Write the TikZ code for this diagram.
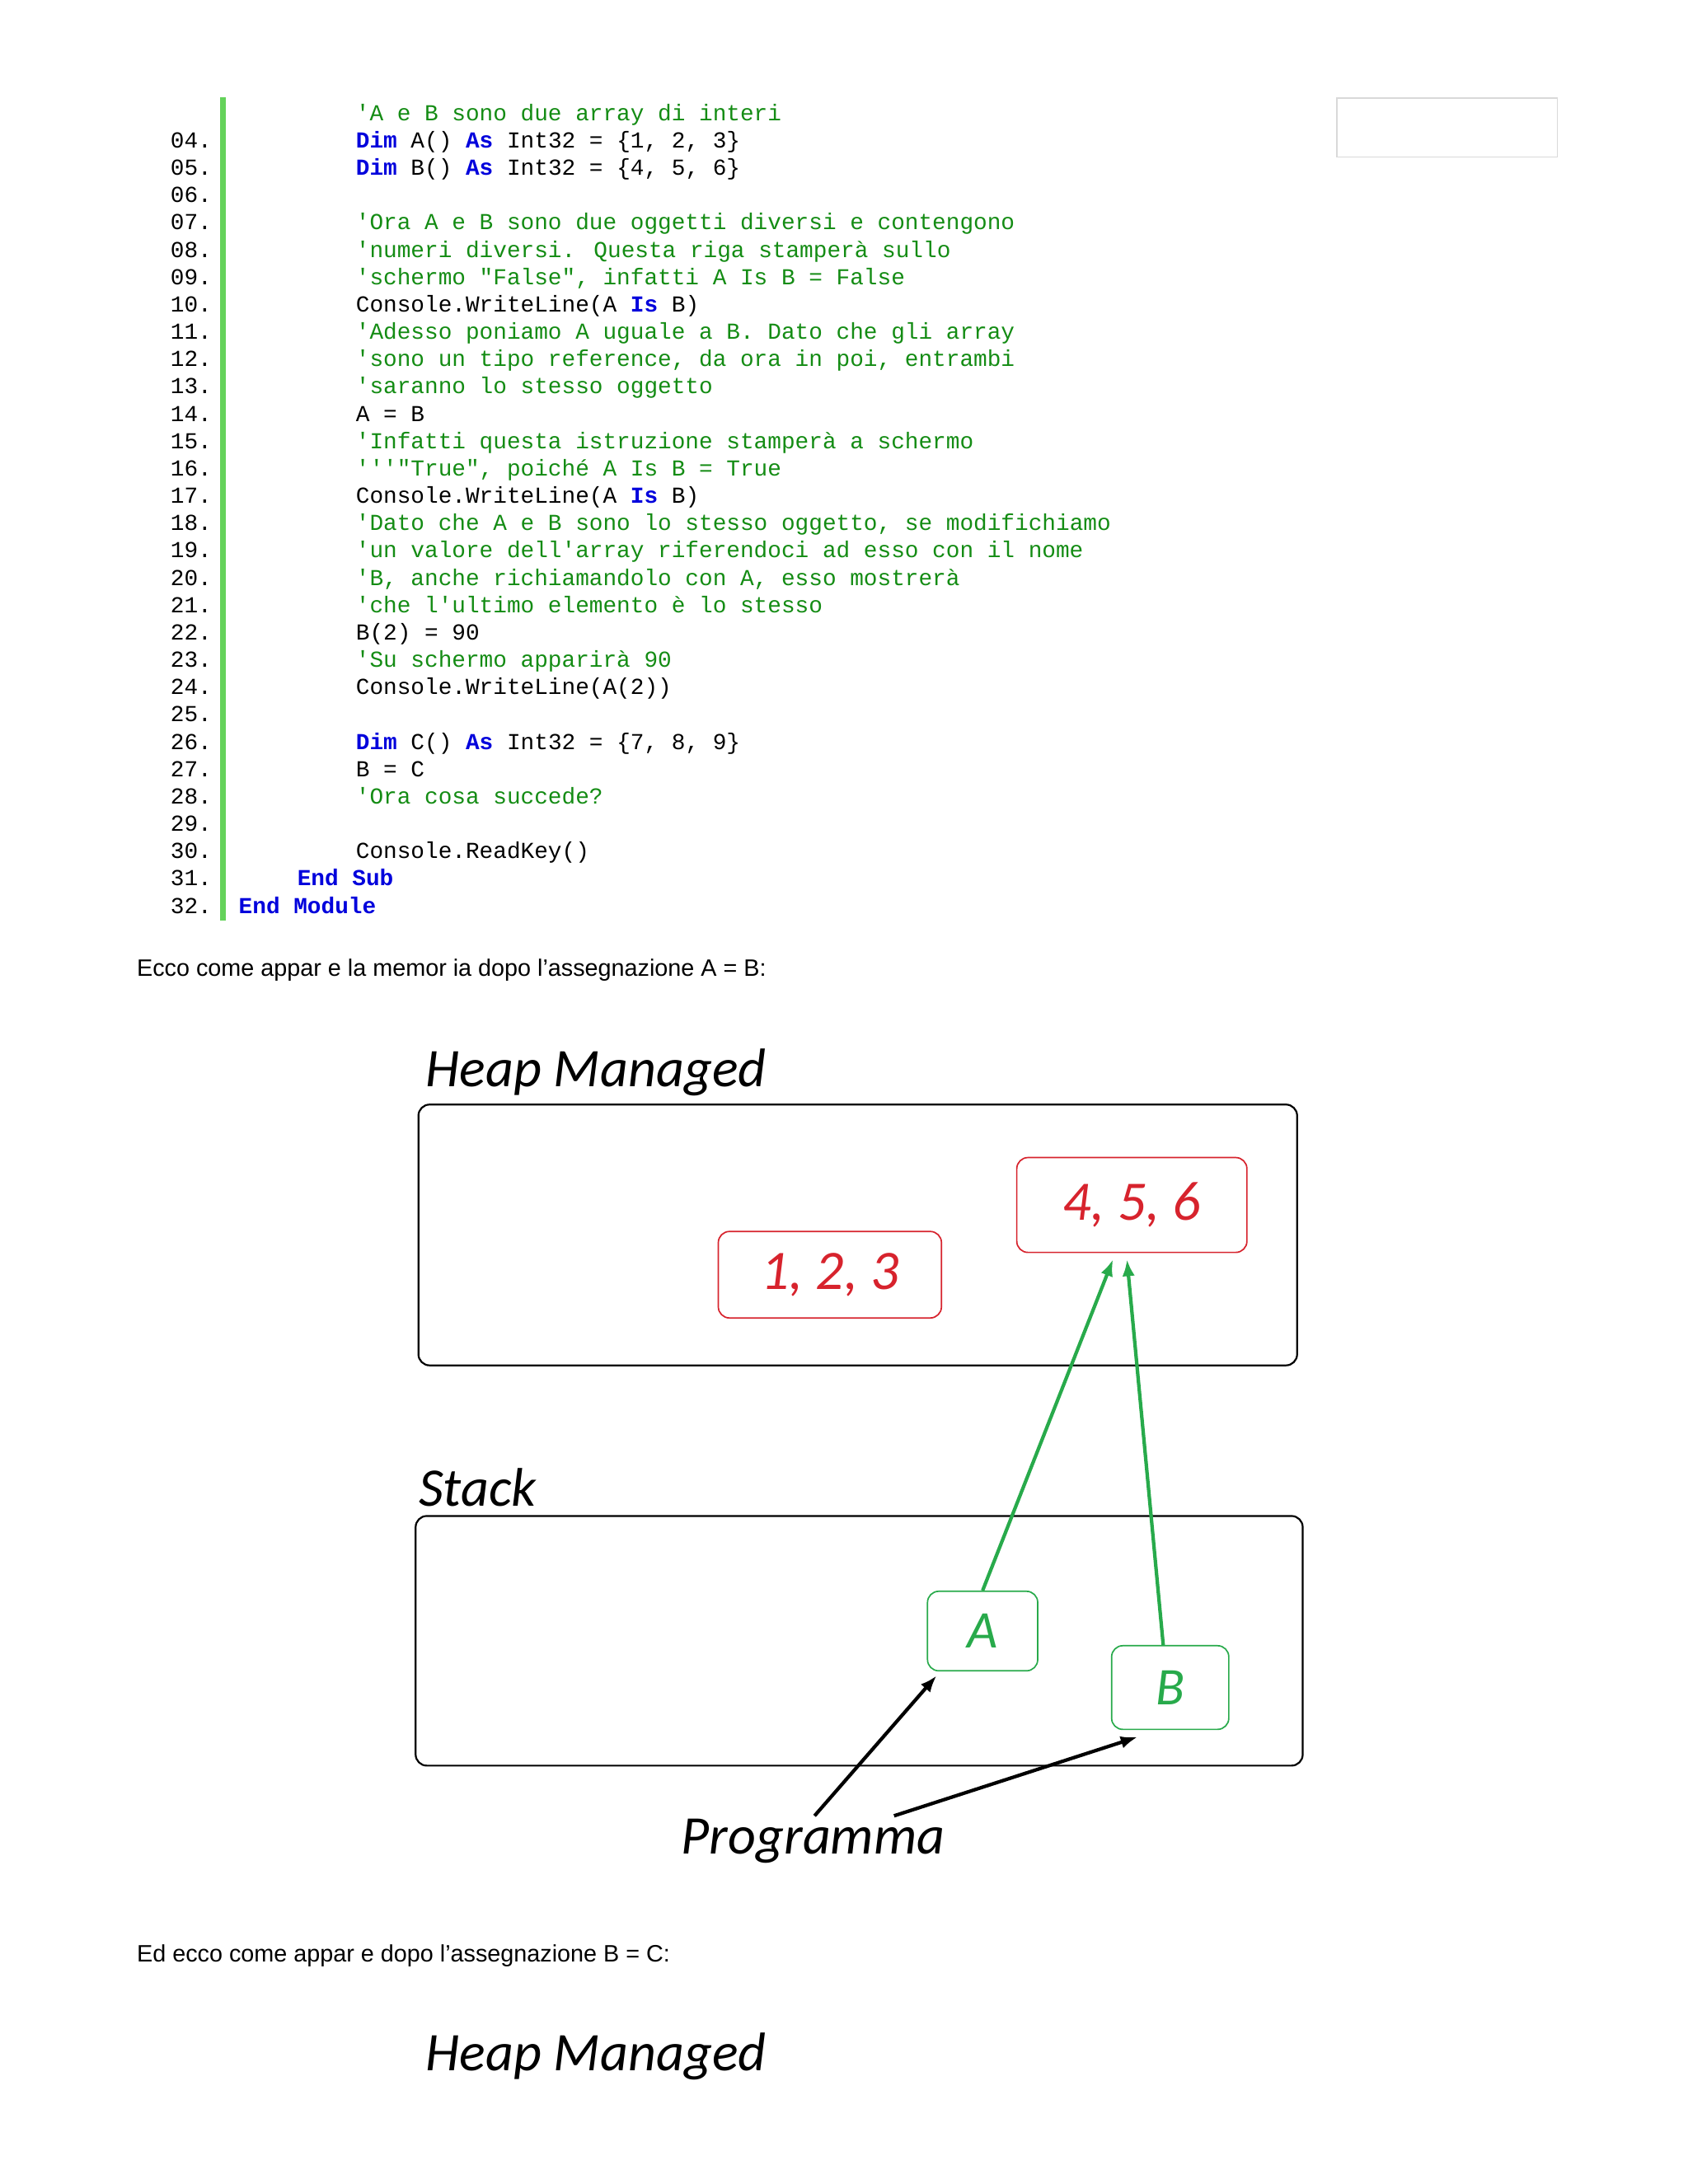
\documentclass[tikz,border=0pt]{standalone}
\usetikzlibrary{arrows.meta}
\usepackage{fontspec}
\setmainfont{Liberation Sans}
\newfontfamily\codefont{Liberation Mono}
\newfontfamily\diafont{Carlito}
\definecolor{cgreen}{RGB}{20,140,20}
\definecolor{kblue}{RGB}{0,0,220}
\definecolor{barg}{RGB}{100,210,90}
\definecolor{dred}{RGB}{215,35,45}
\definecolor{dgreen}{RGB}{40,170,75}
\newcommand{\kw}[1]{{\bfseries\color{kblue}#1}}
\newcommand{\cm}[1]{{\color{cgreen}#1}}
\begin{document}
\begin{tikzpicture}[x=1pt,y=-1pt,
  code/.style={anchor=base west,font=\codefont\fontsize{16.4}{18}\selectfont,inner sep=0pt},
  lnum/.style={anchor=base east,font=\codefont\fontsize{16.4}{18}\selectfont,inner sep=0pt},
  para/.style={anchor=base west,font=\fontsize{17}{19}\selectfont,inner sep=0pt},
  title/.style={anchor=base west,font=\diafont\itshape\fontsize{39}{41}\selectfont,inner sep=0pt},
  area/.style={draw=black,line width=1.3pt,rounded corners=8pt},
  redbox/.style={draw=dred,line width=1pt,rounded corners=8pt,text=dred,font=\diafont\itshape\fontsize{40}{42}\selectfont},
  grbox/.style={draw=dgreen,line width=1pt,rounded corners=8pt,text=dgreen,font=\diafont\itshape\fontsize{38}{40}\selectfont},
  garrow/.style={draw=dgreen,line width=2.5pt,-{Latex[length=12pt,width=9pt]}},
  barrow/.style={draw=black,line width=2.5pt,-{Latex[length=12pt,width=9pt]}}]
\useasboundingbox[fill=white] (0,0) rectangle (1210,1566);
% code listing
\draw[barg,line width=4pt] (160,70) -- (160,660);
\node[draw=black!15,line width=1pt,minimum width=158pt,minimum height=42pt,anchor=north west] (gbox) at (958,70) {};
\foreach \n/\t [count=\i from 4] in {
 04/{\kw{Dim} A() \kw{As} Int32 = \{1, 2, 3\}},
 05/{\kw{Dim} B() \kw{As} Int32 = \{4, 5, 6\}},
 06/{},
 07/{\cm{'Ora A e B sono due oggetti diversi e contengono}},
 08/{\cm{'numeri diversi. Questa riga stamperà sullo}},
 09/{\cm{'schermo "False", infatti A Is B = False}},
 10/{Console.WriteLine(A \kw{Is} B)},
 11/{\cm{'Adesso poniamo A uguale a B. Dato che gli array}},
 12/{\cm{'sono un tipo reference, da ora in poi, entrambi}},
 13/{\cm{'saranno lo stesso oggetto}},
 14/{A = B},
 15/{\cm{'Infatti questa istruzione stamperà a schermo}},
 16/{\cm{'''"True", poiché A Is B = True}},
 17/{Console.WriteLine(A \kw{Is} B)},
 18/{\cm{'Dato che A e B sono lo stesso oggetto, se modifichiamo}},
 19/{\cm{'un valore dell'array riferendoci ad esso con il nome}},
 20/{\cm{'B, anche richiamandolo con A, esso mostrerà}},
 21/{\cm{'che l'ultimo elemento è lo stesso}},
 22/{B(2) = 90},
 23/{\cm{'Su schermo apparirà 90}},
 24/{Console.WriteLine(A(2))},
 25/{},
 26/{\kw{Dim} C() \kw{As} Int32 = \{7, 8, 9\}},
 27/{B = C},
 28/{\cm{'Ora cosa succede?}},
 29/{},
 30/{Console.ReadKey()}}{
  \node[lnum] (n\n) at (152,{106+19.6*(\i-4)}) {\n.};
  \node[code] (c\n) at (255,{106+19.6*(\i-4)}) {\t};
}
\node[code] (c03) at (255,86.4) {\cm{'A e B sono due array di interi}};
\node[lnum] (n31) at (152,{106+19.6*27}) {31.};
\node[code] (c31) at (213,{106+19.6*27}) {\kw{End Sub}};
\node[lnum] (n32) at (152,{106+19.6*28}) {32.};
\node[code] (c32) at (171,{106+19.6*28}) {\kw{End Module}};
% paragraphs
\node[para] (p1) at (98,700) {Ecco come appar e la memor ia dopo l'assegnazione A = B:};
\node[para] (p2) at (98,1407) {Ed ecco come appar e dopo l'assegnazione B = C:};
% diagram 1
\node[title] (heap) at (305,779) {Heap Managed};
\draw[area] (300,792) rectangle (930,979);
\node[redbox,minimum width=160pt,minimum height=62pt] (v123) at (595,914) {1, 2, 3};
\node[redbox,minimum width=165pt,minimum height=68pt] (v456) at (811.5,864) {4, 5, 6};
\node[title] (stack) at (300,1080) {Stack};
\draw[area] (298,1087) rectangle (934,1266);
\node[grbox,minimum width=79pt,minimum height=57pt] (A) at (704.5,1169.5) {A};
\node[grbox,minimum width=84pt,minimum height=60pt] (B) at (839,1210) {B};
\node[font=\diafont\itshape\fontsize{39}{41}\selectfont] (prog) at (583,1320) {Programma};
\coordinate (hA) at (798,903);
\coordinate (hB) at (808,903);
\draw[garrow] (A.north) -- (hA);
\draw[garrow] ([xshift=-5pt]B.north) -- (hB);
\coordinate (pa) at (584,1302);
\coordinate (pb) at (641,1302);
\draw[barrow] (pa) -- ([xshift=7pt,yshift=-3pt]A.south west);
\draw[barrow] (pb) -- ([xshift=19pt,yshift=-5pt]B.south west);
% second title
\node[title] (heap2) at (305,1485) {Heap Managed};
\end{tikzpicture}
\end{document}
